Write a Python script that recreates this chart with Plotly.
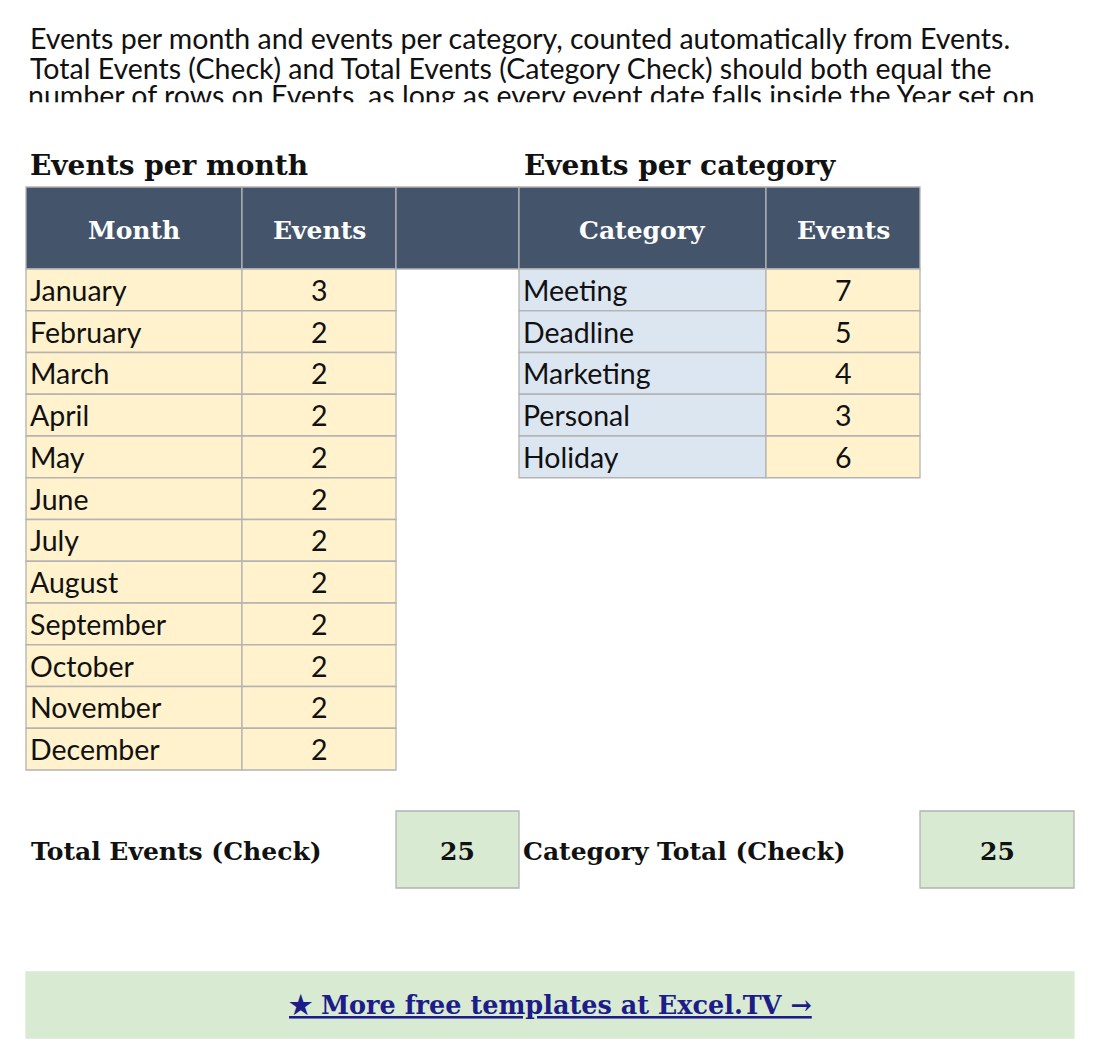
import plotly.graph_objects as go

months = ["January","February","March","April","May","June","July","August","September","October","November","December"]
month_events = [3,2,2,2,2,2,2,2,2,2,2,2]
categories = ["Meeting","Deadline","Marketing","Personal","Holiday"]
category_events = [7,5,4,3,6]
total_month = 25
total_category = 25
intro = ["Events per month and events per category, counted automatically from Events.",
         "Total Events (Check) and Total Events (Category Check) should both equal the",
         "number of rows on Events, as long as every event date falls inside the Year set on"]

W, H = 1099, 1063
OFF = 8
HEAD = "#44546a"; YEL = "#fff2cc"; BLUE = "#dce6f1"; GRN = "#d9ead3"; BOR = "#b3b3b3"
SERIF = "DejaVu Serif"; SANS = "Lato"
BS = 28.5

fig = go.Figure()
shapes, ann = [], []

def rect(x0, y0, x1, y1, fill, line=BOR, layer="below"):
    shapes.append(dict(type="rect", x0=x0, x1=x1, y0=y0, y1=y1, fillcolor=fill,
                       line=dict(color=line, width=1.3), layer=layer))

def text(x, y, s, size=BS, font=SANS, color="#111", bold=False, xanchor="left"):
    ann.append(dict(x=x, y=y, text=("<b>%s</b>" % s) if bold else s, showarrow=False,
                    xanchor=xanchor, yanchor="middle",
                    font=dict(family=font, size=size, color=color)))

# intro text (first two lines as annotations, third line clipped)
text(28, 38, intro[0]); text(28, 68, intro[1])
fig.add_trace(go.Scatter(x=[28], y=[99], mode="text", text=[intro[2]], textposition="middle right",
                         textfont=dict(family=SANS, size=BS, color="#111"), hoverinfo="skip"))
rect(0, 103, W + 20, 140, "white", line="white", layer="above")

# section titles
text(28, 165, "Events per month", 28, SERIF, bold=True)
text(522, 165, "Events per category", 28, SERIF, bold=True)

# headers
cols = [26, 242, 396, 519, 766, 920]
ytop, yh = 187, 269
for i in range(5):
    rect(cols[i], ytop, cols[i+1], yh, HEAD)
HS = 25
text((cols[0]+cols[1])/2, 230, "Month", HS, SERIF, "white", True, "center")
text((cols[1]+cols[2])/2, 230, "Events", HS, SERIF, "white", True, "center")
text((cols[3]+cols[4])/2, 230, "Category", HS, SERIF, "white", True, "center")
text((cols[4]+cols[5])/2, 230, "Events", HS, SERIF, "white", True, "center")

rh = (770 - 269) / 12
for i, (m, v) in enumerate(zip(months, month_events)):
    y0 = yh + i * rh; y1 = y0 + rh; yc = (y0 + y1) / 2
    rect(cols[0], y0, cols[1], y1, YEL); rect(cols[1], y0, cols[2], y1, YEL)
    text(cols[0] + 2, yc, m); text((cols[1]+cols[2])/2, yc, str(v), xanchor="center")
for i, (c, v) in enumerate(zip(categories, category_events)):
    y0 = yh + i * rh; y1 = y0 + rh; yc = (y0 + y1) / 2
    rect(cols[3], y0, cols[4], y1, BLUE); rect(cols[4], y0, cols[5], y1, YEL)
    text(cols[3] + 2, yc, c); text((cols[4]+cols[5])/2, yc, str(v), xanchor="center")

# totals
text(29, 851, "Total Events (Check)", HS, SERIF, bold=True)
rect(396, 811, 519, 888, GRN)
text(457, 851, str(total_month), HS, SERIF, bold=True, xanchor="center")
text(521, 851, "Category Total (Check)", HS, SERIF, bold=True)
rect(920, 811, 1074, 888, GRN)
text(997, 851, str(total_category), HS, SERIF, bold=True, xanchor="center")

# banner
rect(26, 972, 1074, 1038, GRN, line=GRN)
text(550, 1005, "<u>★ More free templates at Excel.TV →</u>", 25.5, SERIF, "#1c1c8a", True, "center")

fig.update_layout(width=W, height=H, margin=dict(l=0, r=0, t=0, b=0),
                  plot_bgcolor="white", paper_bgcolor="white", showlegend=False,
                  shapes=shapes, annotations=ann,
                  xaxis=dict(range=[OFF, W + OFF], visible=False, fixedrange=True),
                  yaxis=dict(range=[H + OFF, OFF], visible=False, fixedrange=True))
fig.write_html("out.html", config={"displayModeBar": False})
